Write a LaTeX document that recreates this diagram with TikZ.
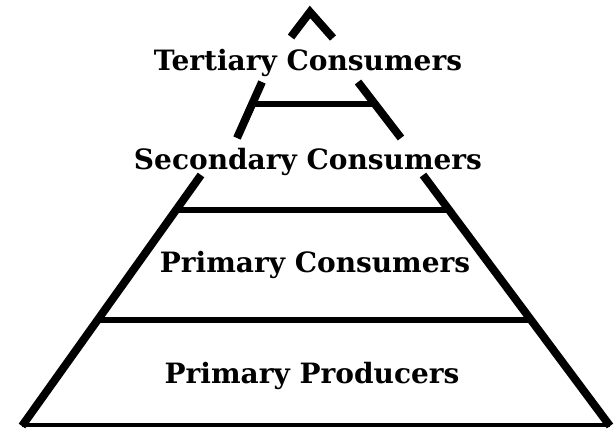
\documentclass[tikz,border=0pt]{standalone}
\usepackage{fontspec}
\setmainfont{DejaVu Serif}
\begin{document}
\begin{tikzpicture}[x=1pt,y=-1pt,
  edge/.style={line width=8pt,line cap=butt,line join=miter},
  divider/.style={line width=6pt,line cap=butt},
  baseline/.style={line width=4pt},
  lbl/.style={anchor=base,inner sep=0pt,font=\fontsize{28}{32}\selectfont\bfseries}]
\useasboundingbox (0,0) rectangle (616,429);
% labels
\node[lbl] (ter) at (308,70) {Tertiary Consumers};
\node[lbl] (sec) at (308,169) {Secondary Consumers};
\node[lbl] (pcon) at (315,272) {Primary Consumers};
\node[lbl] (ppro) at (312,383) {Primary Producers};
% points
\coordinate (cl) at (291,37);
\coordinate (apex) at (310,12);
\coordinate (cr) at (333,38);
\coordinate (ul1) at (262,82);
\coordinate (ul2) at (237,138);
\coordinate (ur1) at (358,82);
\coordinate (ur2) at (401,138);
\coordinate (ll1) at (201,175);
\coordinate (ll2) at (22,426);
\coordinate (lr1) at (423,175);
\coordinate (lr2) at (610,426);
% edges
\draw[edge] (cl) -- (apex) -- (cr);
\draw[edge] (ul1) -- (ul2);
\draw[edge] (ur1) -- (ur2);
\draw[edge] (ll1) -- (ll2);
\draw[edge] (lr1) -- (lr2);
% dividers
\draw[divider] (252,104) coordinate (d1l) -- (375,104) coordinate (d1r);
\draw[divider] (175,210) coordinate (d2l) -- (450,210) coordinate (d2r);
\draw[divider] (97,320) coordinate (d3l) -- (532,320) coordinate (d3r);
\draw[baseline] (22,425) -- (610,425);
\end{tikzpicture}
\end{document}
